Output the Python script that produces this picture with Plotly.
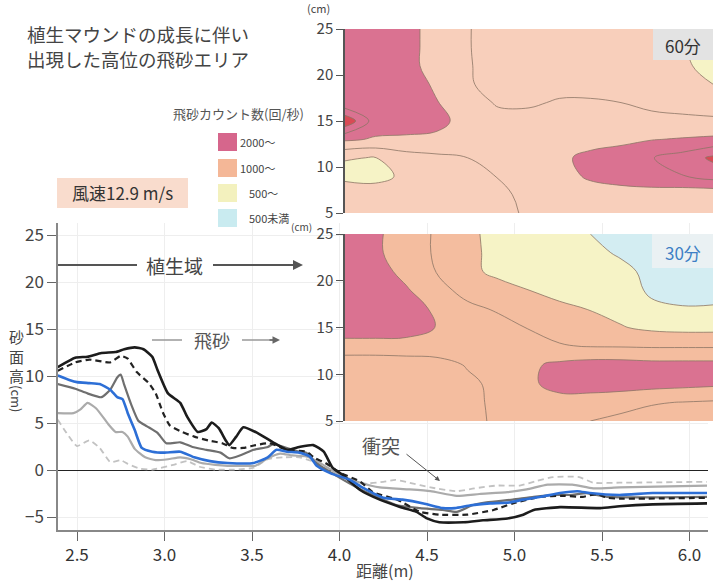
import plotly.graph_objects as go

W, H = 713, 581
JP = "Noto Sans CJK JP"

# ---------------- sand surface profiles: distance (m) / height (cm) ----------------
black_x = [2.39, 2.49, 2.56, 2.64, 2.72, 2.77, 2.83, 2.88, 2.93, 2.96, 3.02, 3.09, 3.13, 3.19, 3.24,
           3.27, 3.31, 3.35, 3.37, 3.41, 3.45, 3.53, 3.62, 3.70, 3.77, 3.85, 3.91, 3.96, 4.02, 4.12,
           4.23, 4.35, 4.44, 4.50, 4.57, 4.71, 4.82, 4.96, 5.05, 5.11, 5.26, 5.49, 5.60, 5.79, 6.10]
black_y = [11.0, 12.0, 12.1, 12.5, 12.6, 12.9, 13.1, 12.9, 12.1, 10.7, 8.2, 7.2, 5.7, 4.1, 4.4,
           5.1, 4.5, 3.2, 2.7, 3.6, 4.6, 4.0, 3.0, 2.2, 2.5, 2.7, 2.0, 0.3, -0.5, -2.1,
           -3.1, -3.9, -4.4, -5.1, -5.5, -5.5, -5.3, -5.1, -4.7, -4.2, -3.9, -4.0, -3.8, -3.6, -3.5]

bdash_x = [2.39, 2.49, 2.57, 2.69, 2.75, 2.79, 2.84, 2.91, 2.95, 2.99, 3.03, 3.10, 3.17, 3.25, 3.33,
           3.39, 3.45, 3.52, 3.60, 3.70, 3.81, 3.86, 3.92, 4.00, 4.12, 4.19, 4.33, 4.46, 4.57, 4.73,
           4.88, 4.99, 5.15, 5.28, 5.39, 5.47, 5.53, 5.60, 6.10]
bdash_y = [10.6, 11.5, 11.8, 11.5, 12.2, 11.9, 10.5, 9.3, 8.2, 6.2, 4.8, 4.1, 3.6, 3.2, 2.9,
           2.4, 2.4, 2.7, 2.9, 2.2, 2.0, 1.3, 0.8, -0.2, -1.2, -2.3, -3.1, -4.4, -4.7, -4.7,
           -4.2, -3.5, -2.8, -2.7, -2.8, -2.5, -2.9, -3.0, -2.9]

dgray_x = [2.39, 2.49, 2.56, 2.64, 2.69, 2.73, 2.75, 2.77, 2.81, 2.85, 2.90, 2.96, 3.01, 3.09, 3.16,
           3.24, 3.32, 3.37, 3.43, 3.51, 3.59, 3.62, 3.70, 3.77, 3.81, 3.86, 3.95, 4.13, 4.33, 4.46,
           4.59, 4.67, 4.76, 4.84, 4.99, 5.11, 5.23, 5.33, 5.41, 5.53, 6.10]
dgray_y = [9.2, 8.7, 8.2, 7.8, 8.6, 9.9, 10.2, 9.1, 7.0, 5.3, 4.7, 4.0, 2.9, 3.0, 2.5,
           2.2, 1.9, 1.3, 1.6, 2.2, 2.5, 2.8, 2.4, 2.0, 1.9, 0.9, -0.2, -2.1, -3.7, -4.0,
           -4.2, -4.4, -3.7, -3.4, -3.1, -2.8, -2.6, -2.6, -2.4, -2.8, -2.8]

blue_x = [2.39, 2.46, 2.50, 2.57, 2.63, 2.69, 2.73, 2.76, 2.79, 2.83, 2.87, 2.93, 3.00, 3.09, 3.17,
          3.26, 3.36, 3.51, 3.59, 3.64, 3.70, 3.77, 3.83, 3.87, 3.95, 4.06, 4.13, 4.25, 4.36, 4.48,
          4.59, 4.66, 4.75, 4.86, 4.97, 5.05, 5.15, 5.26, 5.36, 5.43, 5.60, 5.79, 6.10]
blue_y = [10.1, 9.6, 9.4, 9.3, 9.2, 8.6, 7.8, 7.6, 6.1, 4.3, 2.4, 2.0, 1.9, 2.0, 1.4,
          1.0, 0.8, 0.8, 1.4, 2.2, 2.0, 1.9, 1.5, 0.5, -0.3, -1.0, -1.8, -2.9, -3.1, -3.5,
          -4.0, -4.0, -3.7, -3.5, -3.4, -3.1, -2.8, -2.4, -2.2, -2.4, -2.6, -2.4, -2.4]

lgray_x = [2.39, 2.48, 2.52, 2.56, 2.61, 2.68, 2.72, 2.76, 2.79, 2.83, 2.89, 2.95, 3.02, 3.09, 3.15,
           3.21, 3.29, 3.36, 3.45, 3.52, 3.59, 3.66, 3.73, 3.81, 3.87, 3.95, 4.03, 4.12, 4.23, 4.39,
           4.52, 4.67, 4.80, 4.96, 5.07, 5.19, 5.33, 5.45, 5.60, 6.10]
lgray_y = [6.1, 6.1, 6.5, 7.2, 6.6, 4.9, 4.1, 4.1, 3.6, 2.3, 1.4, 1.1, 1.2, 1.4, 1.2,
           0.8, 0.6, 0.5, 0.5, 0.5, 1.3, 1.8, 1.6, 1.5, 1.0, 0.1, -0.7, -1.3, -1.8, -2.0,
           -2.2, -2.7, -2.5, -2.3, -2.0, -1.5, -1.5, -1.9, -1.8, -1.6]

ldash_x = [2.39, 2.44, 2.50, 2.57, 2.63, 2.69, 2.75, 2.79, 2.86, 2.93, 3.05, 3.13, 3.20, 3.29, 3.40,
           3.51, 3.59, 3.68, 3.77, 3.86, 3.95, 4.03, 4.13, 4.25, 4.32, 4.40, 4.52, 4.67, 4.77, 4.90,
           5.03, 5.13, 5.22, 5.37, 5.45, 5.60, 6.10]
ldash_y = [5.4, 4.0, 2.6, 3.2, 2.4, 0.9, 1.1, 0.7, 0.2, 0.1, 0.6, 1.0, 0.4, 0.1, 0.1,
           0.3, 1.2, 1.4, 1.4, 0.9, -0.1, -0.8, -1.4, -1.2, -1.0, -1.3, -1.8, -2.2, -1.9, -1.6,
           -1.6, -1.1, -0.7, -0.7, -1.3, -1.3, -1.2]

dist_ticks = [2.5, 3.0, 3.5, 4.0, 4.5, 5.0, 5.5, 6.0]
height_ticks = [-5, 0, 5, 10, 15, 20, 25]

# ---------------- flying-sand count maps (counts / s) ----------------
map_cols = list(range(13))                 # measuring positions along the map
map_heights = [5, 7, 9, 11, 13, 15, 17, 19, 21, 23, 25]   # cm

count_60min = [
    [1200, 1250, 1250, 1300, 1350, 1420, 1540, 1600, 1650, 1700, 1700, 1700, 1700],
    [1250, 1200, 1250, 1300, 1350, 1450, 1560, 1650, 1750, 1800, 1800, 1700, 1650],
    [900, 880, 1080, 1300, 1400, 1510, 1650, 1800, 2080, 2200, 2300, 2480, 2700],
    [1020, 990, 1300, 1400, 1500, 1650, 1700, 1850, 2200, 2300, 2480, 2700, 3100],
    [2080, 1950, 1900, 1880, 1800, 1700, 1650, 1650, 1700, 1850, 1980, 2040, 2100],
    [3400, 2250, 2300, 2150, 1800, 1650, 1600, 1600, 1600, 1580, 1560, 1560, 1550],
    [2100, 2350, 2350, 2020, 1700, 1450, 1460, 1530, 1530, 1500, 1450, 1400, 1350],
    [2400, 2400, 2300, 1900, 1530, 1400, 1400, 1400, 1400, 1400, 1350, 1200, 1000],
    [2350, 2350, 2200, 1750, 1530, 1350, 1300, 1300, 1300, 1300, 1250, 1050, 900],
    [2300, 2300, 2200, 1750, 1520, 1350, 1300, 1300, 1300, 1300, 1250, 1030, 900],
    [2300, 2300, 2200, 1750, 1520, 1350, 1300, 1300, 1300, 1300, 1250, 1150, 950],
]

count_30min = [
    [1150, 1200, 1250, 1300, 1450, 1530, 1620, 1600, 1500, 1400, 1350, 1350, 1350],
    [1200, 1200, 1250, 1300, 1450, 1540, 1700, 1800, 1750, 1650, 1530, 1490, 1450],
    [1200, 1200, 1250, 1300, 1450, 1560, 1900, 2200, 2250, 2250, 2200, 2150, 2100],
    [1200, 1200, 1250, 1400, 1520, 1700, 1920, 2100, 2200, 2200, 2150, 2150, 2150],
    [1780, 1780, 1780, 1650, 1700, 1700, 1650, 1530, 1480, 1470, 1450, 1450, 1450],
    [2300, 2300, 2250, 1980, 1800, 1650, 1480, 1350, 1200, 1030, 900, 850, 850],
    [2350, 2350, 2250, 1900, 1600, 1450, 1250, 1100, 980, 850, 560, 530, 540],
    [2350, 2300, 2050, 1650, 1350, 1150, 1000, 850, 760, 640, 450, 350, 350],
    [2300, 2200, 1850, 1480, 1100, 900, 800, 720, 650, 560, 440, 350, 350],
    [2300, 2100, 1700, 1450, 1100, 880, 750, 650, 560, 470, 380, 350, 350],
    [2300, 2100, 1700, 1450, 1100, 850, 700, 620, 500, 400, 350, 350, 350],
]

legend_labels = ["2000〜", "1000〜", "500〜", "500未満"]
legend_colors = ["#d6668c", "#f4b797", "#f3f1be", "#c9ebf0"]

C_BLUE, C_YEL, C_PINK, C_RED = "#d3edf2", "#f6f3c6", "#da7291", "#d94a55"


def band_scale(peach):
    # one colour per 500-count band: <500, 500-, 1000-, 1500-, 2000-, 2500-, 3000-
    cols = [C_BLUE, C_YEL, peach, peach, C_PINK, C_PINK, C_RED]
    return [[i / 6, c] for i, c in enumerate(cols)]


def px(x):
    return x / W


def py(y):
    return 1 - y / H


fig = go.Figure()

profiles = [
    (ldash_x, ldash_y, "#c2c2c2", 1.8, "6px,4px"),
    (lgray_x, lgray_y, "#ababab", 2.2, "solid"),
    (dgray_x, dgray_y, "#6f6f6f", 2.2, "solid"),
    (bdash_x, bdash_y, "#222222", 2.2, "6px,4px"),
    (black_x, black_y, "#1c1c1c", 2.6, "solid"),
    (blue_x, blue_y, "#2d6fd6", 2.6, "solid"),
]
for xs, ys, col, w, dash in profiles:
    fig.add_trace(go.Scatter(x=xs, y=ys, mode="lines", showlegend=False, hoverinfo="skip",
                             line=dict(color=col, width=w, dash=dash, shape="spline", smoothing=0.5)))

for z, xa, ya, peach in [(count_30min, "x2", "y2", "#f4bd9f"), (count_60min, "x3", "y3", "#f8cfbb")]:
    fig.add_trace(go.Contour(
        x=map_cols, y=map_heights, z=z, xaxis=xa, yaxis=ya,
        autocontour=False, contours=dict(start=500, end=3000, size=500, coloring="fill"),
        colorscale=band_scale(peach), showscale=False, hoverinfo="skip",
        line=dict(color="#8c7565", width=0.8, smoothing=1.1)))

axis_font = dict(family=JP, size=17, color="#333")
map_axis = dict(range=[5, 25], tickvals=[5, 10, 15, 20, 25], ticks="outside", ticklen=7,
                tickcolor="#555", showline=True, linecolor="#555", linewidth=1.5, automargin=False,
                showgrid=False, zeroline=False, tickfont=dict(family=JP, size=15, color="#444"))

fig.update_layout(
    width=W, height=H, margin=dict(l=0, r=0, t=0, b=0, pad=0, autoexpand=False),
    paper_bgcolor="white", plot_bgcolor="white",
    xaxis=dict(domain=[px(58), px(708)], range=[2.3914, 6.1057], tickvals=dist_ticks,
               tickformat=".1f", ticks="outside", ticklen=9, tickcolor="#666", automargin=False,
               showline=True, linecolor="#888", linewidth=1.5, showgrid=True,
               gridcolor="#eeeeee", zeroline=False, tickfont=axis_font),
    yaxis=dict(domain=[py(530), py(223)], range=[-6.33, 26.33], tickvals=height_ticks,
               ticks="outside", ticklen=9, tickcolor="#666", showline=True, linecolor="#888",
               linewidth=1.5, showgrid=True, gridcolor="#eeeeee", zeroline=True, automargin=False,
               zerolinecolor="#222", zerolinewidth=1.2, tickfont=dict(family=JP, size=17, color="#444")),
    xaxis2=dict(domain=[px(345), 1.0], range=[0, 12], visible=False, anchor="y2", automargin=False),
    yaxis2=dict(domain=[py(421), py(234)], anchor="x2", **map_axis),
    xaxis3=dict(domain=[px(345), 1.0], range=[0, 12], visible=False, anchor="y3", automargin=False),
    yaxis3=dict(domain=[py(213), py(29)], anchor="x3", **map_axis),
)

shapes = []
annos = []


def text(x, y, s, size, color="#444", xanchor="center", **kw):
    annos.append(dict(x=px(x), y=py(y), xref="paper", yref="paper", text=s, showarrow=False,
                      xanchor=xanchor, yanchor="middle", font=dict(family=JP, size=size, color=color), **kw))


def hline(x0, x1, y, color, width):
    shapes.append(dict(type="line", xref="paper", yref="paper", x0=px(x0), x1=px(x1),
                       y0=py(y), y1=py(y), line=dict(color=color, width=width)))


def rect(x0, y0, x1, y1, fill):
    shapes.append(dict(type="rect", xref="paper", yref="paper", x0=px(x0), x1=px(x1),
                       y0=py(y1), y1=py(y0), fillcolor=fill, line=dict(width=0), layer="above"))


def arrow(x, y, ax, ay, color, width):
    annos.append(dict(x=px(x), y=py(y), xref="paper", yref="paper", text="", showarrow=True,
                      ax=ax, ay=ay, axref="pixel", ayref="pixel", arrowhead=2, arrowsize=1,
                      arrowwidth=width, arrowcolor=color))


# title
text(25, 34, "植生マウンドの成長に伴い", 18.5, "#444", xanchor="left")
text(25, 59, "出現した高位の飛砂エリア", 18.5, "#444", xanchor="left")

# wind speed badge
rect(57, 178, 188, 208, "#f9dccd")
text(122, 193, "風速12.9 m/s", 17, "#333")

# count legend
text(238, 113, "飛砂カウント数(回/秒)", 13, "#555")
sq_top = [133, 159, 184, 209]
lab_x = [238, 238, 247, 247]
for top, lab, col, lx in zip(sq_top, legend_labels, legend_colors, lab_x):
    rect(218, top, 237, top + 18, col)
    text(lx, top + 9, lab, 11, "#444", xanchor="left")

# map axis units and time labels
text(318, 8, "(cm)", 11, "#444")
text(301, 226, "(cm)", 10, "#444")
rect(653, 29, 713, 60, "#e3e3e3")
text(683, 45, "60分", 17, "#333")
rect(652, 234, 713, 268, "rgba(236,241,243,0.92)")
text(683, 252, "30分", 17, "#3d7fc5")

# vegetation zone / flying sand arrows
hline(58, 137, 265, "#555", 2)
hline(213, 296, 265, "#555", 2)
arrow(303, 265, -16, 0, "#555", 2)
text(174, 265, "植生域", 19, "#444")

hline(152, 182, 340, "#999", 1.5)
hline(242, 274, 340, "#999", 1.5)
arrow(280, 340, -12, 0, "#666", 1.5)
text(212, 340, "飛砂", 18, "#555")

# collision note
text(381, 445, "衝突", 19, "#555")
arrow(440, 481, -35, -28, "#555", 1)

# axis titles
text(16, 356, "砂<br>面<br>高", 15, "#444")
text(17, 398, "(cm)", 13, "#444", textangle=90)
text(385, 570, "距離(m)", 16, "#444")

fig.update_layout(shapes=shapes, annotations=annos)
fig.write_html("out.html")
